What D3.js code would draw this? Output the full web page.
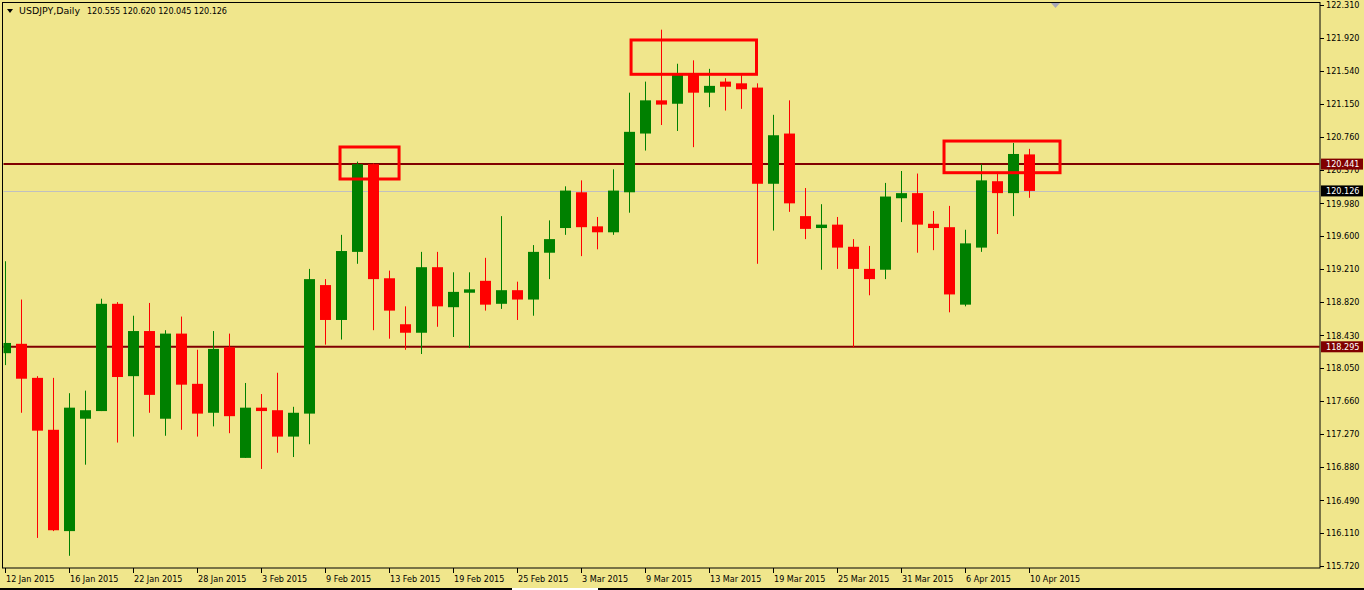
<!DOCTYPE html>
<html><head><meta charset="utf-8">
<script src="https://cdn.jsdelivr.net/npm/d3@7/dist/d3.min.js"></script>
<style>
html,body{margin:0;padding:0;background:#F0E68C;overflow:hidden}
svg text{font-family:"DejaVu Sans Condensed","DejaVu Sans",sans-serif;font-stretch:condensed;font-size:9px}
</style>
</head><body>
<svg id="chart" width="1364" height="590"></svg>
<script>
// ---------- data ----------
const symbol = "USDJPY,Daily";
const lastQuote = ["120.555", "120.620", "120.045", "120.126"];

const dates = [
  "12 Jan 2015","13 Jan 2015","14 Jan 2015","15 Jan 2015","16 Jan 2015",
  "19 Jan 2015","20 Jan 2015","21 Jan 2015","22 Jan 2015","23 Jan 2015",
  "26 Jan 2015","27 Jan 2015","28 Jan 2015","29 Jan 2015","30 Jan 2015",
  "2 Feb 2015","3 Feb 2015","4 Feb 2015","5 Feb 2015","6 Feb 2015",
  "9 Feb 2015","10 Feb 2015","11 Feb 2015","12 Feb 2015","13 Feb 2015",
  "16 Feb 2015","17 Feb 2015","18 Feb 2015","19 Feb 2015","20 Feb 2015",
  "23 Feb 2015","24 Feb 2015","25 Feb 2015","26 Feb 2015","27 Feb 2015",
  "2 Mar 2015","3 Mar 2015","4 Mar 2015","5 Mar 2015","6 Mar 2015",
  "9 Mar 2015","10 Mar 2015","11 Mar 2015","12 Mar 2015","13 Mar 2015",
  "16 Mar 2015","17 Mar 2015","18 Mar 2015","19 Mar 2015","20 Mar 2015",
  "23 Mar 2015","24 Mar 2015","25 Mar 2015","26 Mar 2015","27 Mar 2015",
  "30 Mar 2015","31 Mar 2015","1 Apr 2015","2 Apr 2015","3 Apr 2015",
  "6 Apr 2015","7 Apr 2015","8 Apr 2015","9 Apr 2015","10 Apr 2015"
];

const open  = [118.22,118.33,117.93,117.32,116.13,117.45,117.54,118.80,117.95,118.48,
               117.45,118.45,117.86,117.52,118.29,116.99,117.58,117.55,117.24,117.51,
               119.02,118.61,119.41,120.44,119.10,118.56,118.46,119.23,118.76,118.93,
               119.07,118.80,118.96,118.85,119.40,119.69,120.11,119.71,119.64,120.11,
               120.80,121.19,121.15,121.50,121.28,121.41,121.39,121.34,120.21,120.80,
               119.83,119.69,119.73,119.47,119.21,119.20,120.04,120.10,119.74,119.70,
               118.79,119.46,120.24,120.10,120.555];
const high  = [119.30,118.85,117.95,117.93,117.75,117.78,118.86,118.82,118.66,118.81,
               118.49,118.65,118.26,118.48,118.45,117.87,117.74,117.99,117.59,119.21,
               119.09,119.61,120.47,120.45,119.19,118.77,119.41,119.41,119.17,119.17,
               119.34,119.83,119.06,119.49,119.78,120.18,120.25,119.82,120.38,121.28,
               121.41,122.02,121.62,121.66,121.56,121.45,121.49,121.39,121.02,121.19,
               120.16,119.97,119.82,119.56,119.48,120.22,120.36,120.33,119.89,119.95,
               119.67,120.44,120.35,120.69,120.620];
const low   = [118.08,117.52,116.05,116.13,115.84,116.91,117.54,117.17,117.24,117.52,
               117.25,117.32,117.24,117.36,117.28,116.99,116.86,117.05,117.00,117.15,
               118.32,118.38,119.27,118.49,118.39,118.26,118.21,118.53,118.41,118.28,
               118.72,118.74,118.61,118.66,119.09,119.61,119.36,119.44,119.61,119.87,
               120.60,120.90,120.83,120.64,121.11,121.07,121.09,119.27,119.66,119.88,
               119.56,119.20,119.21,118.29,118.90,119.09,119.76,119.40,119.43,118.70,
               118.77,119.41,119.62,119.83,120.045];
const close = [118.34,117.92,117.31,116.14,117.58,117.55,118.80,117.94,118.48,117.73,
               118.45,117.85,117.51,118.27,117.48,117.58,117.54,117.24,117.52,119.09,
               118.61,119.42,120.44,119.09,118.72,118.46,119.23,118.77,118.94,118.97,
               118.79,118.96,118.85,119.41,119.56,120.13,119.70,119.64,120.13,120.82,
               121.19,121.14,121.49,121.28,121.36,121.35,121.32,120.21,120.78,119.98,
               119.68,119.73,119.46,119.21,119.09,120.06,120.10,119.73,119.69,118.91,
               119.51,120.25,120.10,120.56,120.126];

const priceTicks = ["122.310","121.920","121.540","121.150","120.760","120.370","119.980",
                    "119.600","119.210","118.820","118.430","118.050","117.660","117.270",
                    "116.880","116.490","116.110","115.720"];
const dateTicks = ["12 Jan 2015","16 Jan 2015","22 Jan 2015","28 Jan 2015","3 Feb 2015",
                   "9 Feb 2015","13 Feb 2015","19 Feb 2015","25 Feb 2015","3 Mar 2015",
                   "9 Mar 2015","13 Mar 2015","19 Mar 2015","25 Mar 2015","31 Mar 2015",
                   "6 Apr 2015","10 Apr 2015"];

const levelLines = [120.441, 118.295];
const bidPrice = 120.126;

// annotation rectangles: bar index from/to, price top/bottom
const boxFrom   = [20.97, 39.16, 58.72];
const boxTo     = [24.66, 47.00, 65.97];
const boxTop    = [120.642, 121.899, 120.712];
const boxBottom = [120.266, 121.496, 120.340];

// ---------- layout ----------
const W = 1364, H = 590;
const frame = {left: 3, right: 1320, top: 2.5, bottom: 568};
const svg = d3.select("#chart");

const x = d3.scaleLinear().domain([0, dates.length - 1]).range([4.5, 1028.5]);
const y = d3.scaleLinear().domain([115.72, 122.31]).range([566, 5]);

svg.append("rect").attr("width", W).attr("height", H).attr("fill", "#F0E68C");

svg.append("defs").append("clipPath").attr("id", "plotclip")
  .append("rect").attr("x", frame.left + 0.5).attr("y", frame.top + 0.5)
  .attr("width", frame.right - frame.left - 1).attr("height", frame.bottom - frame.top - 1);

const plot = svg.append("g").attr("clip-path", "url(#plotclip)");

// bid line
plot.append("line").attr("x1", frame.left).attr("x2", frame.right)
  .attr("y1", Math.round(y(bidPrice)) + 0.5).attr("y2", Math.round(y(bidPrice)) + 0.5)
  .attr("stroke", "#C0C0C0").attr("stroke-width", 1);

// level lines
plot.selectAll("line.level").data(levelLines).join("line").attr("class", "level")
  .attr("x1", frame.left).attr("x2", frame.right)
  .attr("y1", d => y(d)).attr("y2", d => y(d))
  .attr("stroke", "#800000").attr("stroke-width", 2);

// candles
const bars = d3.range(dates.length).map(i => ({i, o: open[i], h: high[i], l: low[i], c: close[i]}));
const col = d => d.c >= d.o ? "#008000" : "#FF0000";

plot.selectAll("line.wick").data(bars).join("line").attr("class", "wick")
  .attr("x1", d => Math.round(x(d.i)) + 0.5).attr("x2", d => Math.round(x(d.i)) + 0.5)
  .attr("y1", d => y(d.h)).attr("y2", d => y(d.l))
  .attr("stroke", col).attr("stroke-width", 1);

plot.selectAll("rect.body").data(bars).join("rect").attr("class", "body")
  .attr("x", d => Math.round(x(d.i)) - 5)
  .attr("width", 11)
  .attr("y", d => y(Math.max(d.o, d.c)))
  .attr("height", d => Math.max(1, Math.abs(y(d.o) - y(d.c))))
  .attr("fill", col);

// annotation boxes
plot.selectAll("rect.box").data(d3.range(boxFrom.length)).join("rect").attr("class", "box")
  .attr("x", i => x(boxFrom[i])).attr("width", i => x(boxTo[i]) - x(boxFrom[i]))
  .attr("y", i => y(boxTop[i])).attr("height", i => y(boxBottom[i]) - y(boxTop[i]))
  .attr("fill", "none").attr("stroke", "#FF0000").attr("stroke-width", 3);

// frame
svg.append("rect").attr("x", frame.left - 0.5).attr("y", frame.top)
  .attr("width", frame.right - frame.left + 0.5).attr("height", frame.bottom - frame.top)
  .attr("fill", "none").attr("stroke", "#000").attr("stroke-width", 1);

// price axis
const pa = svg.append("g");
pa.selectAll("line").data(priceTicks).join("line")
  .attr("x1", frame.right).attr("x2", frame.right + 4)
  .attr("y1", d => Math.round(y(+d)) + 0.5).attr("y2", d => Math.round(y(+d)) + 0.5)
  .attr("stroke", "#000");
pa.selectAll("text").data(priceTicks).join("text")
  .attr("x", frame.right + 6).attr("y", d => y(+d)).attr("dy", "0.36em")
  .attr("fill", "#000").text(d => d);

// line labels
function priceBox(p, fill, txt) {
  const cy = y(p);
  svg.append("rect").attr("x", frame.right + 1).attr("y", cy - 5.5)
    .attr("width", 42).attr("height", 11).attr("fill", fill);
  svg.append("text").attr("x", frame.right + 6).attr("y", cy).attr("dy", "0.36em")
    .attr("fill", "#fff").text(txt);
}
levelLines.forEach(p => priceBox(p, "#800000", p.toFixed(3)));
priceBox(bidPrice, "#000", bidPrice.toFixed(3));

// date axis
const da = svg.append("g");
da.selectAll("line").data(dateTicks).join("line")
  .attr("x1", d => Math.round(x(dates.indexOf(d))) + 0.5).attr("x2", d => Math.round(x(dates.indexOf(d))) + 0.5)
  .attr("y1", frame.bottom).attr("y2", frame.bottom + 5).attr("stroke", "#000");
da.selectAll("text").data(dateTicks).join("text")
  .attr("x", d => Math.round(x(dates.indexOf(d))) + 1).attr("y", 582)
  .attr("fill", "#000").text(d => d);

// header
svg.append("path").attr("d", "M7,9 L13,9 L10,13 Z").attr("fill", "#000");
svg.append("text").attr("x", 19).attr("y", 14).attr("fill", "#000")
  .attr("textLength", 61).attr("lengthAdjust", "spacingAndGlyphs").text(symbol);
svg.append("text").attr("x", 87).attr("y", 14).attr("fill", "#000")
  .attr("textLength", 140).attr("lengthAdjust", "spacing").text(lastQuote.join(" "));

// chart shift marker
svg.append("path").attr("d", "M1051,3 L1060,3 L1055.5,8 Z").attr("fill", "#A8A8B8");

// bottom window edge
svg.append("rect").attr("x", 0).attr("y", 588).attr("width", W).attr("height", 2).attr("fill", "#000");
svg.append("rect").attr("x", 512).attr("y", 588).attr("width", 86).attr("height", 2).attr("fill", "#fff");
</script>
</body></html>
